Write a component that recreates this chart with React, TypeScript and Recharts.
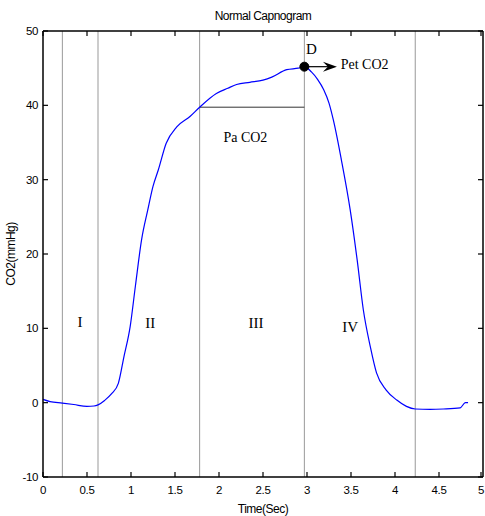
import React from 'react';
import { LineChart, Line, XAxis, YAxis, ReferenceLine, ReferenceDot } from 'recharts';

// capnogram trace
const timeSec = [0, 0.08, 0.22, 0.35, 0.5, 0.58, 0.625, 0.7, 0.78, 0.856, 0.92, 0.99, 1.05, 1.12, 1.19, 1.25, 1.31, 1.4, 1.52, 1.67, 1.78, 1.97, 2.1, 2.2, 2.35, 2.5, 2.6, 2.77, 2.9, 2.97, 3.05, 3.12, 3.19, 3.25, 3.3, 3.39, 3.49, 3.57, 3.64, 3.72, 3.79, 3.9, 4.02, 4.13, 4.23, 4.4, 4.55, 4.74, 4.8, 4.83];
const co2 = [0.45, 0.15, -0.05, -0.25, -0.5, -0.45, -0.3, 0.3, 1.2, 2.6, 6.2, 10.2, 15.7, 21.9, 25.9, 29.1, 31.3, 34.9, 37.1, 38.5, 39.75, 41.6, 42.3, 42.8, 43.1, 43.4, 43.8, 44.8, 45.0, 45.2, 44.5, 43.5, 42.1, 40.3, 38.0, 32.7, 26, 19.2, 12.5, 7.5, 4.0, 1.7, 0.35, -0.5, -0.85, -0.9, -0.85, -0.7, 0.0, 0.0];

const phaseBounds = [0.22, 0.625, 1.78, 2.97, 4.23];
const phaseNames = ['I', 'II', 'III', 'IV'];
const phaseNameT = [0.42, 1.22, 2.42, 3.49];
const phaseNameV = [10.9, 10.7, 10.7, 10.2];

const paCO2 = 39.75;
const paStart = 1.78;
const petT = 2.97;
const petCO2 = 45.2;
const arrowEndT = 3.34;

const xTicks = [0, 0.5, 1, 1.5, 2, 2.5, 3, 3.5, 4, 4.5, 5];
const yTicks = [-10, 0, 10, 20, 30, 40, 50];

const data = timeSec.map((t, i) => ({ t, co2: co2[i] }));

const sansFont = "'Liberation Sans', Arial, sans-serif";
const serifFont = "'Liberation Serif', 'Times New Roman', serif";
const tickStyle = { fontSize: 11.5, fontFamily: sansFont, fill: '#000', letterSpacing: -0.4 };
const titleStyle = { fontSize: 12, fontFamily: sansFont, fill: '#000', letterSpacing: -0.5 };
const TICK_LEN = 5;
const X_GAP = 9;
const Y_GAP = 5;

// inward tick marks drawn with the labels (matlab style box)
const BottomTick = (p: any) => {
  const ay = p.y - X_GAP;
  return (
    <g>
      <line x1={p.x} y1={ay} x2={p.x} y2={ay - TICK_LEN} stroke="#000" strokeWidth={1.2} />
      <text x={p.x} y={p.y} dy="0.71em" textAnchor="middle" {...tickStyle}>{p.payload.value}</text>
    </g>
  );
};
const LeftTick = (p: any) => {
  const ax = p.x + Y_GAP;
  return (
    <g>
      <line x1={ax} y1={p.y} x2={ax + TICK_LEN} y2={p.y} stroke="#000" strokeWidth={1.2} />
      <text x={p.x} y={p.y} dy="0.36em" textAnchor="end" {...tickStyle}>{p.payload.value}</text>
    </g>
  );
};
const TopTick = (p: any) => (
  <line x1={p.x} y1={p.y} x2={p.x} y2={p.y + TICK_LEN} stroke="#000" strokeWidth={1.2} />
);
const RightTick = (p: any) => (
  <line x1={p.x} y1={p.y} x2={p.x - TICK_LEN} y2={p.y} stroke="#000" strokeWidth={1.2} />
);

const Arrow = (p: any) => {
  const { x1, y1, x2, y2 } = p;
  return (
    <g>
      <line x1={x1} y1={y1} x2={x2 - 8} y2={y2} stroke="#000" strokeWidth={1.2} />
      <path d={`M${x2},${y2} L${x2 - 14},${y2 - 5} L${x2 - 9},${y2} L${x2 - 14},${y2 + 5} Z`} fill="#000" />
    </g>
  );
};

const YTitle = (p: any) => {
  const vb = p.viewBox;
  const cx = vb.x + 11;
  const cy = vb.y + vb.height / 2;
  return (
    <text x={cx} y={cy} transform={`rotate(-90, ${cx}, ${cy})`} textAnchor="middle" dominantBaseline="central"
      {...titleStyle}>CO2(mmHg)</text>
  );
};

export default function App() {
  return (
    <div style={{ position: 'absolute', left: 0, top: 0, background: '#fff' }}>
      <LineChart width={485} height={516} data={data} margin={{ top: 30, right: 1, bottom: 0, left: 0 }}>
        <XAxis dataKey="t" type="number" domain={[0, 5]} ticks={xTicks} height={39} tick={<BottomTick />}
          tickSize={0} tickMargin={X_GAP} tickLine={false} stroke="#000" strokeWidth={1.5}
          label={{ value: 'Time(Sec)', position: 'insideBottom', offset: 3, ...titleStyle }} />
        <XAxis xAxisId="top" dataKey="t" type="number" orientation="top" domain={[0, 5]} ticks={xTicks} height={1}
          tick={<TopTick />} tickSize={0} tickMargin={0} tickLine={false} stroke="#000" strokeWidth={1.5}
          label={{ value: 'Normal Capnogram', position: 'top', offset: 10, ...titleStyle }} />
        <YAxis type="number" domain={[-10, 50]} ticks={yTicks} width={43} tick={<LeftTick />}
          tickSize={0} tickMargin={Y_GAP} tickLine={false} stroke="#000" strokeWidth={1.5}
          label={<YTitle />} />
        <YAxis yAxisId="right" orientation="right" type="number" domain={[-10, 50]} ticks={yTicks} width={1}
          tick={<RightTick />} tickSize={0} tickMargin={0} tickLine={false} stroke="#000" strokeWidth={1.5} />

        {phaseBounds.map((b) => (
          <ReferenceLine key={b} x={b} stroke="#999" strokeWidth={1} />
        ))}
        <ReferenceLine segment={[{ x: paStart, y: paCO2 }, { x: petT, y: paCO2 }]} stroke="#333" strokeWidth={1} />
        <ReferenceLine segment={[{ x: petT, y: petCO2 }, { x: arrowEndT, y: petCO2 }]} shape={<Arrow />} />

        {/* hidden copy so the top and right frame axes get a domain */}
        <Line xAxisId="top" yAxisId="right" dataKey="co2" stroke="none" dot={false} activeDot={false}
          isAnimationActive={false} />
        <Line dataKey="co2" type="monotone" stroke="#0000ff" strokeWidth={1.2} dot={false} isAnimationActive={false} />

        <ReferenceDot x={petT} y={petCO2} r={4.5} fill="#000" stroke="#000" />
        {phaseNames.map((n, i) => (
          <ReferenceDot key={n} x={phaseNameT[i]} y={phaseNameV[i]} r={0} stroke="none"
            label={{ value: n, position: 'center', fontSize: 15, fontFamily: serifFont, fill: '#000' }} />
        ))}
        <ReferenceDot x={2.3} y={35.8} r={0} stroke="none"
          label={{ value: 'Pa CO2', position: 'center', fontSize: 14, fontFamily: serifFont, fill: '#000' }} />
        <ReferenceDot x={3.05} y={47.6} r={0} stroke="none"
          label={{ value: 'D', position: 'center', fontSize: 15, fontFamily: serifFont, fill: '#000' }} />
        <ReferenceDot x={3.36} y={45.5} r={0} stroke="none"
          label={{ value: 'Pet CO2', position: 'right', offset: 2, fontSize: 14, fontFamily: serifFont, fill: '#000' }} />
      </LineChart>
    </div>
  );
}
